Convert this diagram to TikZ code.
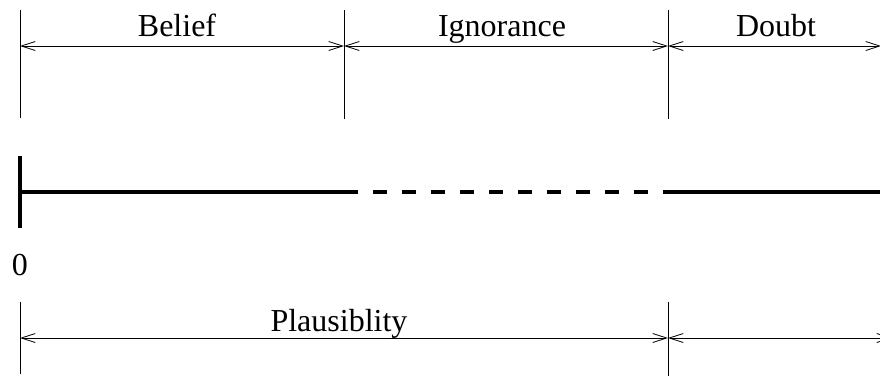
\documentclass[tikz,border=0pt]{standalone}
\usepackage{fontspec}
\setmainfont{Liberation Serif}
\usetikzlibrary{arrows.meta}

\begin{document}
\begin{tikzpicture}[
  x=1pt, y=-1pt,
  >={Straight Barb[length=14pt, width=9pt, line width=0.8pt]},
  tickline/.style={line width=0.8pt},
  span/.style={line width=0.8pt, <->},
  scaleline/.style={line width=3.5pt},
  lbl/.style={font=\fontsize{32}{38}\selectfont, anchor=base, inner sep=0pt},
]

\useasboundingbox (0,0) rectangle (880,376);

% =============================================
% Top: belief / ignorance / doubt
% =============================================

\coordinate (t0) at (20,46);
\coordinate (t1) at (344,46);
\coordinate (t2) at (668,46);
\coordinate (t3) at (881,46);

\draw[tickline] (20,10) -- (20,118);
\draw[tickline] (344,10) -- (344,119);
\draw[tickline] (668,10) -- (668,119);

\draw[span] (t0) -- (t1);
\draw[span] (t1) -- (t2);
\draw[span] (t2) -- (t3);

\node[lbl] (belief) at (177,36) {Belief};
\node[lbl] (ignorance) at (502,36) {Ignorance};
\node[lbl] (doubt) at (776,36) {Doubt};

% =============================================
% The scale from 0 to 1
% =============================================

\coordinate (s0) at (20,192);
\coordinate (s1) at (344,192);
\coordinate (s2) at (668,192);
\coordinate (s3) at (892,192);

\draw[line width=4.3pt] (20,156) -- (20,228);
\draw[scaleline] (s0) -- (s1);
\draw[scaleline, dash pattern=on 14pt off 15pt] (s1) -- (s2);
\draw[scaleline] (s2) -- (s3);

\node[lbl] (zero) at (20,275) {0};
\node[lbl] (one) at (888,275) {1};

% =============================================
% Bottom: plausibility
% =============================================

\coordinate (b0) at (20,338);
\coordinate (b1) at (668,338);
\coordinate (b2) at (892,338);

\draw[tickline] (20,302) -- (20,374);
\draw[tickline] (668,302) -- (668,376);

\draw[span] (b0) -- (b1);
\draw[span] (b1) -- (b2);

\node[lbl] (plaus) at (339,331) {Plausiblity};

\end{tikzpicture}
\end{document}
